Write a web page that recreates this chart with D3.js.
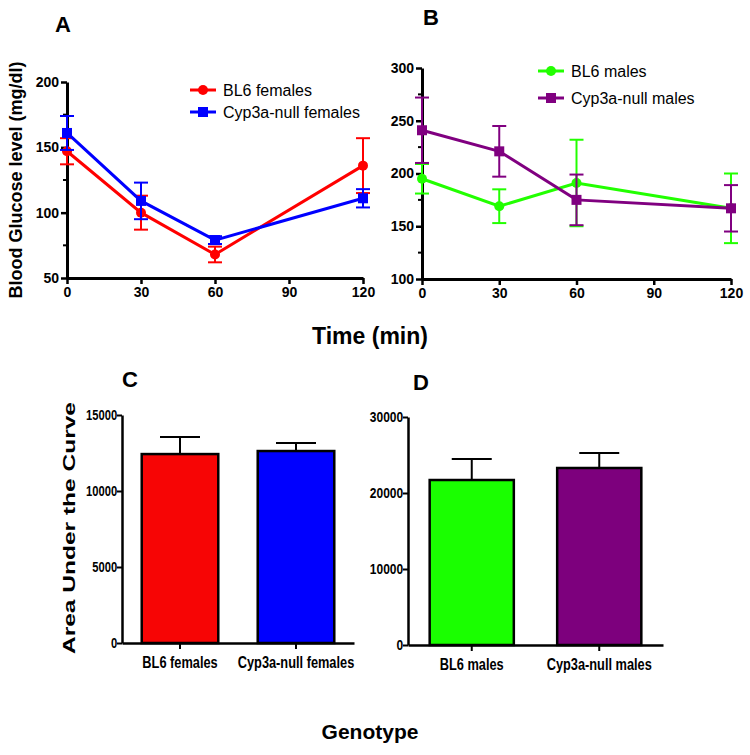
<!DOCTYPE html>
<meta charset="utf-8">
<script src="https://d3js.org/d3.v7.min.js"></script>
<style>
  body { margin: 0; background: #fff; }
  text { font-family: "Liberation Sans", Arial, sans-serif; }
</style>
<div id="chart"></div>
<script>
// time points (min)
const times = [0, 30, 60, 120];

// glucose (mg/dl) mean and SEM
const bl6Females = [147, 100, 68, 136];
const bl6FemalesErr = [10, 13, 6, 21];
const cypFemales = [161, 109, 79, 111];
const cypFemalesErr = [13, 14, 3, 7];

const bl6Males = [195, 169, 191, 167];
const bl6MalesErr = [14, 16, 41, 33];
const cypMales = [241, 221, 175, 167];
const cypMalesErr = [31, 24, 24, 22];

// area under the curve
const femaleGroups = ["BL6 females", "Cyp3a-null females"];
const femaleAUC = [12430, 12630];
const femaleAUCErr = [1120, 530];
const maleGroups = ["BL6 males", "Cyp3a-null males"];
const maleAUC = [21710, 23290];
const maleAUCErr = [2760, 1970];

const svg = d3.select("#chart").append("svg")
    .attr("width", 750).attr("height", 755);

// line chart panel
function linePanel(o) {
    const x = d3.scaleLinear().domain([0, 120]).range(o.xr);
    const y = d3.scaleLinear().domain(o.yd).range(o.yr);
    const g = svg.append("g");

    // minor ticks
    g.selectAll(".minor").data(o.minor).join("line")
        .attr("x1", o.xr[0] - 4).attr("x2", o.xr[0])
        .attr("y1", d => y(d)).attr("y2", d => y(d))
        .attr("stroke", "#000").attr("stroke-width", 2);

    const ya = g.append("g").attr("transform", `translate(${o.xr[0]},0)`)
        .call(d3.axisLeft(y).tickValues(o.yticks).tickSize(6).tickPadding(2).tickSizeOuter(0));
    const xa = g.append("g").attr("transform", `translate(0,${o.yr[0]})`)
        .call(d3.axisBottom(x).tickValues([0, 30, 60, 90, 120]).tickSize(6).tickPadding(3).tickSizeOuter(0));
    [ya, xa].forEach(a => {
        a.select(".domain").attr("stroke-width", 3);
        a.selectAll(".tick line").attr("stroke-width", 2.5);
        a.selectAll("text").attr("font-size", 14).attr("font-weight", "bold").attr("fill", "#000")
            .style("font-family", "'Liberation Sans', Arial, sans-serif");
    });

    o.series.forEach(s => {
        const pts = times.map((t, i) => ({ t, v: s.vals[i], e: s.err[i] }));
        // error bars
        const eb = g.append("g").attr("stroke", s.color).attr("stroke-width", 2);
        pts.forEach(p => {
            eb.append("line").attr("x1", x(p.t)).attr("x2", x(p.t))
                .attr("y1", y(p.v - p.e)).attr("y2", y(p.v + p.e));
            [p.v - p.e, p.v + p.e].forEach(v => eb.append("line")
                .attr("x1", x(p.t) - 7).attr("x2", x(p.t) + 7)
                .attr("y1", y(v)).attr("y2", y(v)));
        });
        g.append("path").datum(pts)
            .attr("fill", "none").attr("stroke", s.color).attr("stroke-width", 3)
            .attr("d", d3.line().x(d => x(d.t)).y(d => y(d.v)));
        drawMarkers(g, pts.map(p => [x(p.t), y(p.v)]), s);
    });

    // legend
    o.series.forEach((s, i) => {
        const ly = o.legend[1] + i * o.legendGap;
        g.append("line").attr("x1", o.legend[0]).attr("x2", o.legend[0] + 26)
            .attr("y1", ly).attr("y2", ly).attr("stroke", s.color).attr("stroke-width", 3);
        drawMarkers(g, [[o.legend[0] + 13, ly]], s);
        g.append("text").attr("x", o.legend[0] + 33).attr("y", ly + 6)
            .attr("font-size", 16).text(s.name);
    });

    g.append("text").attr("x", o.label[0]).attr("y", o.label[1])
        .attr("font-size", 22).attr("font-weight", "bold").text(o.letter);
}

function drawMarkers(g, xy, s) {
    if (s.shape === "circle") {
        g.selectAll(null).data(xy).join("circle")
            .attr("cx", d => d[0]).attr("cy", d => d[1]).attr("r", 5).attr("fill", s.color);
    } else {
        g.selectAll(null).data(xy).join("rect")
            .attr("x", d => d[0] - 5).attr("y", d => d[1] - 5)
            .attr("width", 10).attr("height", 10).attr("fill", s.color);
    }
}

linePanel({
    xr: [67, 363], yd: [50, 200], yr: [278, 82],
    yticks: [50, 100, 150, 200], minor: [75, 125, 175],
    legend: [190, 90], legendGap: 22, label: [55, 32], letter: "A",
    series: [
        { name: "BL6 females", vals: bl6Females, err: bl6FemalesErr, color: "#ff0000", shape: "circle" },
        { name: "Cyp3a-null females", vals: cypFemales, err: cypFemalesErr, color: "#0000ff", shape: "square" }
    ]
});
linePanel({
    xr: [422, 731], yd: [100, 300], yr: [279, 68],
    yticks: [100, 150, 200, 250, 300], minor: [125, 175, 225, 275],
    legend: [538, 71], legendGap: 27, label: [423, 25], letter: "B",
    series: [
        { name: "BL6 males", vals: bl6Males, err: bl6MalesErr, color: "#22ff00", shape: "circle" },
        { name: "Cyp3a-null males", vals: cypMales, err: cypMalesErr, color: "#800080", shape: "square" }
    ]
});

// bar chart panel
function barPanel(o) {
    const x = d3.scaleBand().domain(o.groups).range(o.xr).paddingInner(0.34).paddingOuter(0.17);
    const y = d3.scaleLinear().domain(o.yd).range(o.yr);
    const g = svg.append("g");

    const ya = g.append("g").attr("transform", `translate(${o.xr[0]},0)`)
        .call(d3.axisLeft(y).tickValues(o.yticks).tickFormat(d3.format("d")).tickSize(5).tickPadding(1).tickSizeOuter(0));
    const xa = g.append("g").attr("transform", `translate(0,${o.yr[0]})`)
        .call(d3.axisBottom(x).tickSize(6).tickPadding(8).tickSizeOuter(0));
    [ya, xa].forEach(a => {
        a.select(".domain").attr("stroke-width", 2.5);
        a.selectAll(".tick line").attr("stroke-width", 2);
        // narrow look: squeeze the glyphs horizontally
        a.selectAll("text").attr("fill", "#000").attr("font-weight", "bold")
            .attr("transform", "scale(0.8,1)");
    });
    ya.selectAll("text").attr("font-size", o.tickFont);
    xa.selectAll("text").attr("font-size", 16);

    // error bars (upper only)
    o.groups.forEach((gr, i) => {
        const cx = x(gr) + x.bandwidth() / 2;
        g.append("line").attr("x1", cx).attr("x2", cx)
            .attr("y1", y(o.vals[i])).attr("y2", y(o.vals[i] + o.err[i]))
            .attr("stroke", "#000").attr("stroke-width", 2);
        g.append("line").attr("x1", cx - 20).attr("x2", cx + 20)
            .attr("y1", y(o.vals[i] + o.err[i])).attr("y2", y(o.vals[i] + o.err[i]))
            .attr("stroke", "#000").attr("stroke-width", 2);
    });

    g.selectAll(null).data(o.groups).join("rect")
        .attr("x", d => x(d)).attr("width", x.bandwidth())
        .attr("y", (d, i) => y(o.vals[i])).attr("height", (d, i) => y(0) - y(o.vals[i]))
        .attr("fill", (d, i) => o.colors[i]).attr("stroke", "#000").attr("stroke-width", 2.5);

    g.append("text").attr("x", o.label[0]).attr("y", o.label[1])
        .attr("font-size", 22).attr("font-weight", "bold").text(o.letter);
}

barPanel({
    groups: femaleGroups, vals: femaleAUC, err: femaleAUCErr, colors: ["#f70505", "#0000ff"],
    xr: [122, 354], yd: [0, 15000], yr: [643, 415], yticks: [0, 5000, 10000, 15000],
    tickFont: 14, label: [122, 387], letter: "C"
});
barPanel({
    groups: maleGroups, vals: maleAUC, err: maleAUCErr, colors: ["#1aff00", "#7d007d"],
    xr: [408, 663], yd: [0, 30000], yr: [645, 417], yticks: [0, 10000, 20000, 30000],
    tickFont: 15, label: [413, 390], letter: "D"
});

// shared axis titles
svg.append("text").attr("transform", "translate(22,180) rotate(-90)")
    .attr("text-anchor", "middle").attr("font-size", 18).attr("font-weight", "bold")
    .text("Blood Glucose level (mg/dl)");
svg.append("text").attr("x", 370).attr("y", 344)
    .attr("text-anchor", "middle").attr("font-size", 23).attr("font-weight", "bold")
    .text("Time (min)");
svg.append("text").attr("transform", "translate(75,528) rotate(-90)")
    .attr("text-anchor", "middle").attr("font-size", 17).attr("font-weight", "bold")
    .attr("textLength", 252).attr("lengthAdjust", "spacingAndGlyphs")
    .text("Area Under the Curve");
svg.append("text").attr("x", 370).attr("y", 739)
    .attr("text-anchor", "middle").attr("font-size", 21).attr("font-weight", "bold")
    .text("Genotype");
</script>
